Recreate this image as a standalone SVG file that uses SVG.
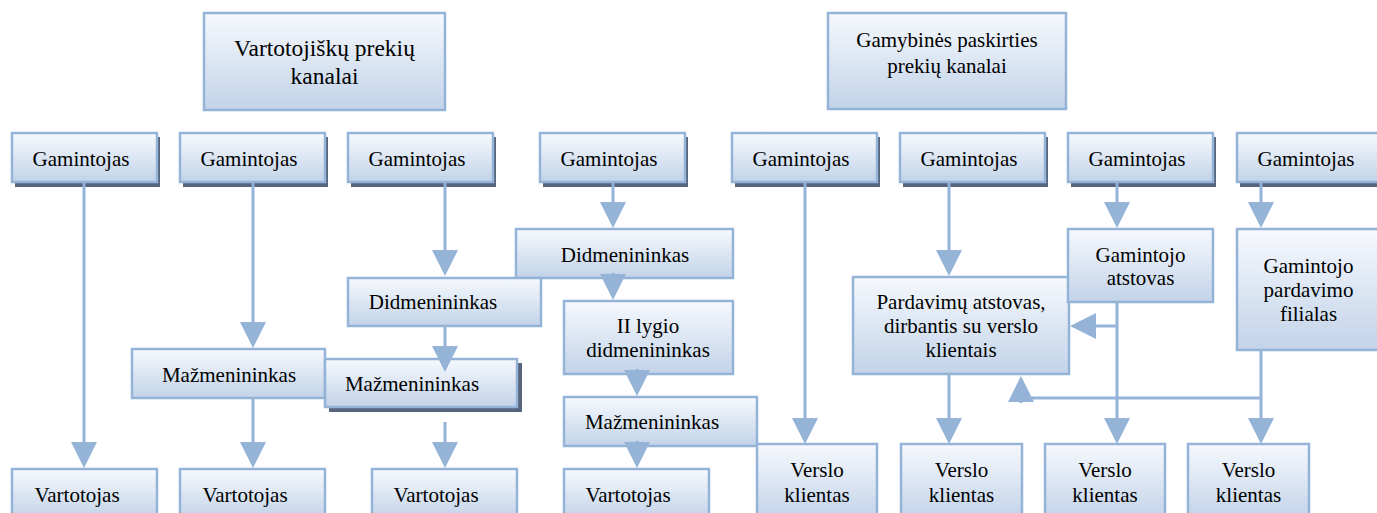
<svg xmlns="http://www.w3.org/2000/svg" width="1377" height="513" viewBox="0 0 1377 513" font-family="Liberation Serif, Times New Roman, serif">
<defs>
<linearGradient id="g" x1="0" y1="0" x2="0" y2="1">
<stop offset="0" stop-color="#f6f9fd"/>
<stop offset="1" stop-color="#c2d3e9"/>
</linearGradient>
<marker id="ah" markerUnits="userSpaceOnUse" markerWidth="26" markerHeight="26" viewBox="0 0 26 26" refX="0" refY="13" orient="auto" overflow="visible">
<path d="M0,0 L26,13 L0,26 z" fill="#95b3d7"/>
</marker>
<style>
.b{fill:url(#g);stroke:#95b3d7;stroke-width:2.5}
.s{fill:#56657d}
text{font-family:"Liberation Serif","Times New Roman",serif;font-size:21px;fill:#000;text-anchor:middle}
.h{font-size:23.5px}
.c{fill:none;stroke:#95b3d7;stroke-width:3}
.a{marker-end:url(#ah)}
</style>
</defs>
<rect width="1377" height="513" fill="#fff"/>

<g id="hdr1"><rect class="b" x="204" y="13" width="241" height="97"/><text class="h" x="324.5" y="56">Vartotojiškų prekių</text><text class="h" x="324.5" y="84">kanalai</text></g>
<g id="hdr2"><rect class="b" x="828" y="13" width="238" height="96"/><text x="947" y="47">Gamybinės paskirties</text><text x="947" y="73">prekių kanalai</text></g>

<g id="gam1"><rect class="s" x="15" y="137" width="145" height="50"/><rect class="b" x="12" y="133" width="145" height="49"/><text x="81" y="166">Gamintojas</text></g>
<g id="gam2"><rect class="s" x="183" y="137" width="145" height="50"/><rect class="b" x="180" y="133" width="145" height="49"/><text x="249" y="166">Gamintojas</text></g>
<g id="gam3"><rect class="s" x="351" y="137" width="145" height="50"/><rect class="b" x="348" y="133" width="145" height="49"/><text x="417" y="166">Gamintojas</text></g>
<g id="gam4"><rect class="s" x="543" y="137" width="145" height="50"/><rect class="b" x="540" y="133" width="145" height="49"/><text x="609" y="166">Gamintojas</text></g>
<g id="gam5"><rect class="s" x="735" y="137" width="145" height="50"/><rect class="b" x="732" y="133" width="145" height="49"/><text x="801" y="166">Gamintojas</text></g>
<g id="gam6"><rect class="s" x="903" y="137" width="145" height="50"/><rect class="b" x="900" y="133" width="145" height="49"/><text x="969" y="166">Gamintojas</text></g>
<g id="gam7"><rect class="s" x="1071" y="137" width="145" height="50"/><rect class="b" x="1068" y="133" width="145" height="49"/><text x="1137" y="166">Gamintojas</text></g>
<g id="gam8"><rect class="s" x="1240" y="137" width="145" height="50"/><rect class="b" x="1237" y="133" width="145" height="49"/><text x="1306" y="166">Gamintojas</text></g>

<g id="did2"><rect class="b" x="516" y="229" width="217" height="49"/><text x="625" y="262">Didmenininkas</text></g>
<g id="did1"><rect class="b" x="348" y="278" width="193" height="48"/><text x="433" y="309">Didmenininkas</text></g>
<g id="maz1"><rect class="b" x="132" y="349" width="193" height="49"/><text x="229" y="382">Mažmenininkas</text></g>
<g id="maz2"><rect class="s" x="329" y="363" width="193" height="49"/><rect class="b" x="325" y="359" width="192" height="48"/><text x="412" y="391">Mažmenininkas</text></g>
<g id="did3"><rect class="b" x="564" y="301" width="169" height="73"/><text x="648" y="333">II lygio</text><text x="648" y="357">didmenininkas</text></g>
<g id="maz3"><rect class="b" x="564" y="397" width="193" height="49"/><text x="652" y="429">Mažmenininkas</text></g>

<g id="var1"><rect class="b" x="12" y="469" width="145" height="50"/><text x="77" y="502">Vartotojas</text></g>
<g id="var2"><rect class="b" x="180" y="469" width="145" height="50"/><text x="245" y="502">Vartotojas</text></g>
<g id="var3"><rect class="b" x="372" y="469" width="145" height="50"/><text x="436" y="502">Vartotojas</text></g>
<g id="var4"><rect class="b" x="564" y="469" width="145" height="50"/><text x="628" y="502">Vartotojas</text></g>

<g id="pard"><rect class="b" x="853" y="277" width="216" height="97"/><text x="961" y="309">Pardavimų atstovas,</text><text x="961" y="333">dirbantis su verslo</text><text x="961" y="357">klientais</text></g>
<g id="gatst"><rect class="b" x="1068" y="229" width="145" height="73"/><text x="1140.5" y="262">Gamintojo</text><text x="1140.5" y="285">atstovas</text></g>
<g id="filial"><rect class="b" x="1237" y="229" width="145" height="121"/><text x="1308.5" y="273">Gamintojo</text><text x="1308.5" y="297">pardavimo</text><text x="1308.5" y="321">filialas</text></g>

<g id="vk1"><rect class="b" x="757" y="444" width="120" height="75"/><text x="817" y="477">Verslo</text><text x="817" y="502">klientas</text></g>
<g id="vk2"><rect class="b" x="901" y="444" width="121" height="75"/><text x="961.5" y="477">Verslo</text><text x="961.5" y="502">klientas</text></g>
<g id="vk3"><rect class="b" x="1045" y="444" width="120" height="75"/><text x="1105" y="477">Verslo</text><text x="1105" y="502">klientas</text></g>
<g id="vk4"><rect class="b" x="1188" y="444" width="121" height="75"/><text x="1248.5" y="477">Verslo</text><text x="1248.5" y="502">klientas</text></g>

<g id="connectors">
<path class="c a" d="M84,182 V442"/>
<path class="c a" d="M253,182 V322"/>
<path class="c a" d="M253,398 V442"/>
<path class="c a" d="M445,182 V250"/>
<path class="c a" d="M445,326 V346"/>
<path class="c a" d="M445,422 V442"/>
<path class="c a" d="M613,182 V202"/>
<path class="c a" d="M613,273 V274"/>
<path class="c a" d="M637,369 V370"/>
<path class="c a" d="M637,441 V442"/>
<path class="c a" d="M805,182 V418"/>
<path class="c a" d="M949,182 V250"/>
<path class="c a" d="M949,374 V418"/>
<path class="c a" d="M1117,182 V202"/>
<path class="c a" d="M1117,302 V418"/>
<path class="c a" d="M1117,326 H1096"/>
<path class="c a" d="M1261,182 V202"/>
<path class="c a" d="M1261,350 V418"/>
<path class="c" d="M1261,398 H1021"/>
<path class="c a" d="M1021,403 V402"/>
</g>
</svg>
